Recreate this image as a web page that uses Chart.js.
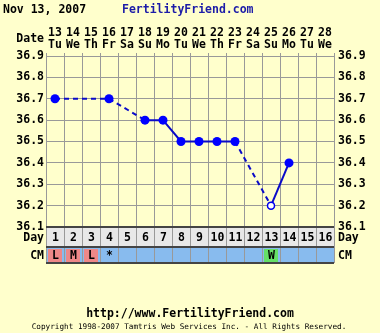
<!DOCTYPE html>
<html>
<head>
<meta charset="utf-8">
<script src="https://cdn.jsdelivr.net/npm/chart.js@4"></script>
<style>
  html, body { margin: 0; padding: 0; background: #ffffcc; }
  #wrap { width: 380px; height: 333px; }
</style>
</head>
<body>
<div id="wrap"><canvas id="chart" width="380" height="333"></canvas></div>
<script>
// ── chart data ────────────────────────────────────────────────
const CYCLE_DAYS = ["1","2","3","4","5","6","7","8","9","10","11","12","13","14","15","16"];
const DATES      = ["13","14","15","16","17","18","19","20","21","22","23","24","25","26","27","28"];
const WEEKDAYS   = ["Tu","We","Th","Fr","Sa","Su","Mo","Tu","We","Th","Fr","Sa","Su","Mo","Tu","We"];
const TEMPS      = [36.7, null, null, 36.7, null, 36.6, 36.6, 36.5, 36.5, 36.5, 36.5, null, 36.2, 36.4, null, null];
const OPEN_POINT = [false,false,false,false,false,false,false,false,false,false,false,false,true,false,false,false];
const CM_CODES   = ["L","M","L","*","","","","","","","","","W","","",""];
const Y_TICKS    = [36.1, 36.2, 36.3, 36.4, 36.5, 36.6, 36.7, 36.8, 36.9];

const BG      = "#ffffcc";
const GRID    = "#999999";
const MONO    = "'DejaVu Sans Mono', 'Liberation Mono', monospace";
const CM_FILL = { L: "#ee8888", M: "#ee8888", W: "#66e066" };

// ── header, footer and the Day / CM rows ──────────────────────
const chartDecor = {
  id: "chartDecor",
  beforeDraw(chart) {
    const c = chart.ctx;
    c.save();
    c.fillStyle = BG;
    c.fillRect(0, 0, chart.width, chart.height);
    c.restore();
  },
  afterDraw(chart) {
    const c  = chart.ctx;
    const a  = chart.chartArea;
    const xs = chart.scales.x;
    const w  = xs.getPixelForValue(1) - xs.getPixelForValue(0);
    const rowTop = a.bottom, rowMid = a.bottom + 20, rowEnd = a.bottom + 36;

    c.save();
    c.textBaseline = "middle";

    // header
    c.font = "bold 11.5px " + MONO;
    c.fillStyle = "#000";
    c.textAlign = "left";
    c.fillText("Nov 13, 2007", 3, 10);
    c.fillStyle = "#1c1ca8";
    c.fillText("FertilityFriend.com", 122, 10);
    c.fillStyle = "#000";
    c.textAlign = "right";
    c.fillText("Date", 44, 39);

    // Day row
    c.fillStyle = "#e8e8e8";
    c.fillRect(a.left, rowTop, a.right - a.left, rowMid - rowTop);
    // CM row
    c.fillStyle = "#88bbee";
    c.fillRect(a.left, rowMid, a.right - a.left, rowEnd - rowMid);

    CYCLE_DAYS.forEach((d, i) => {
      const cx = xs.getPixelForValue(i);
      const x0 = cx - w / 2;
      const code = CM_CODES[i];
      if (CM_FILL[code]) {
        c.fillStyle = CM_FILL[code];
        c.fillRect(x0 + 2, rowMid + 2, w - 4, rowEnd - rowMid - 3);
      }
      c.fillStyle = "#000";
      c.textAlign = "center";
      c.fillText(d, cx + 0.5, (rowTop + rowMid) / 2 + 1);
      if (code) c.fillText(code, cx + 0.5, (rowMid + rowEnd) / 2 + 1);
    });

    // cell separators
    c.strokeStyle = GRID;
    c.lineWidth = 1;
    for (let i = 0; i <= CYCLE_DAYS.length; i++) {
      const x = Math.round(a.left + i * w) + 0.5;
      c.beginPath();
      c.moveTo(x, rowTop);
      c.lineTo(x, rowEnd);
      c.stroke();
    }
    c.strokeStyle = "#444";
    c.lineWidth = 2;
    [rowTop, rowMid, rowEnd].forEach((y) => {
      c.beginPath();
      c.moveTo(a.left, y);
      c.lineTo(a.right, y);
      c.stroke();
    });

    // row labels
    c.fillStyle = "#000";
    c.textAlign = "right";
    c.fillText("Day", 44, (rowTop + rowMid) / 2 + 1);
    c.fillText("CM", 44, (rowMid + rowEnd) / 2 + 1);
    c.textAlign = "left";
    c.fillText("Day", 338, (rowTop + rowMid) / 2 + 1);
    c.fillText("CM", 338, (rowMid + rowEnd) / 2 + 1);

    // footer
    c.textAlign = "center";
    c.fillText("http://www.FertilityFriend.com", 190, 314);
    c.font = "7.7px " + MONO;
    c.fillText("Copyright 1998-2007 Tamtris Web Services Inc. - All Rights Reserved.", 189, 327);
    c.restore();
  },
};

const tickFont = { family: MONO, size: 11.5, weight: "bold", lineHeight: 1.05 };

// dashed where the line bridges a day with no temperature
const bridged = (ctx, v) => (ctx.p0.skip || ctx.p1.skip || ctx.p1DataIndex - ctx.p0DataIndex > 1 ? v : undefined);

new Chart(document.getElementById("chart"), {
  type: "line",
  data: {
    labels: DATES.map((d, i) => [d, WEEKDAYS[i]]),
    datasets: [{
      data: TEMPS,
      yAxisID: "y",
      spanGaps: true,
      tension: 0,
      borderColor: "#0a0ac8",
      borderWidth: 2,
      segment: {
        borderDash: (ctx) => bridged(ctx, [5, 4]),
      },
      pointRadius: TEMPS.map((_, i) => (OPEN_POINT[i] ? 3.5 : 4.5)),
      pointBackgroundColor: OPEN_POINT.map((o) => (o ? "#ffffff" : "#0000ff")),
      pointBorderColor: "#0000ee",
      pointBorderWidth: OPEN_POINT.map((o) => (o ? 1.5 : 0)),
    }],
  },
  options: {
    responsive: false,
    animation: false,
    devicePixelRatio: 1,
    layout: { padding: { top: 22, bottom: 106, left: 0, right: 0 } },
    plugins: { legend: { display: false }, tooltip: { enabled: false } },
    scales: {
      x: {
        position: "top",
        offset: true,
        grid: { offset: true, color: GRID, tickLength: 3 },
        border: { color: GRID },
        ticks: { font: tickFont, color: "#000", padding: 2, maxRotation: 0, autoSkip: false },
        afterFit: (s) => { s.height = 34; },
      },
      y: {
        position: "left",
        min: 36.1, max: 36.9,
        afterBuildTicks: (s) => { s.ticks = Y_TICKS.map((v) => ({ value: v })); },
        grid: { color: GRID, drawTicks: false },
        border: { color: GRID },
        ticks: { font: tickFont, color: "#000", padding: 2, callback: (v) => v.toFixed(1) },
        afterFit: (s) => { s.width = 46; },
      },
      y2: {
        position: "right",
        min: 36.1, max: 36.9,
        afterBuildTicks: (s) => { s.ticks = Y_TICKS.map((v) => ({ value: v })); },
        grid: { drawOnChartArea: false, drawTicks: false },
        border: { color: GRID },
        ticks: { font: tickFont, color: "#000", padding: 4, callback: (v) => v.toFixed(1) },
        afterFit: (s) => { s.width = 46; },
      },
    },
  },
  plugins: [chartDecor],
});
</script>
</body>
</html>
